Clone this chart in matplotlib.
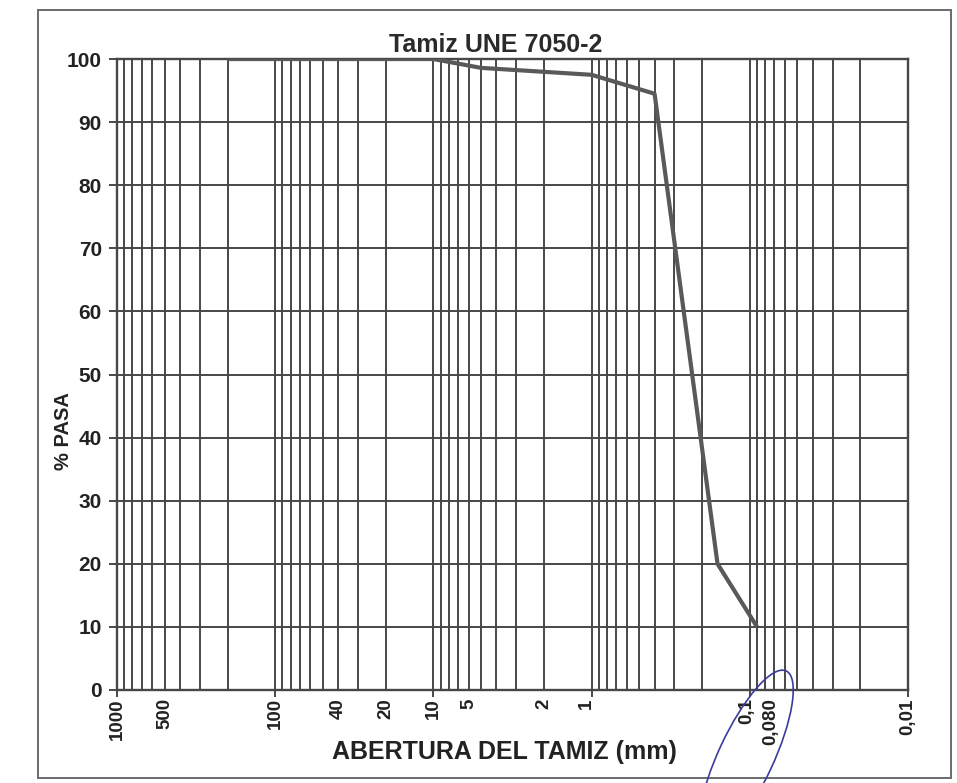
"""
Curva granulometrica (Tamiz UNE 7050-2), % que pasa frente a abertura del tamiz.
"""

from matplotlib import pyplot as plt
from matplotlib import transforms
from matplotlib.patches import Ellipse, Rectangle


OUTPUT_FILE = "out.png"

# datos
abertura_mm = [200, 100, 40, 20, 10, 5, 1, 0.4, 0.16, 0.09]
pasa_pct = [100, 100, 100, 100, 100, 98.6, 97.5, 94.5, 20, 10]

tick_vals = [1000, 500, 100, 40, 20, 10, 5, 2, 1, 0.1, 0.08, 0.01]
tick_labels = ["1000", "500", "100", "40", "20", "10", "5", "2", "1",
               "0,1", "0,080", "0,01"]
y_ticks = list(range(0, 101, 10))

GRID = "#474747"
TEXT = "#222222"
FONT = ["Liberation Sans", "DejaVu Sans"]


def plot(output_file=OUTPUT_FILE):
    plt.rcParams["font.family"] = FONT
    plt.rcParams["font.weight"] = "bold"

    fig = plt.figure(figsize=(9.57, 7.83), dpi=100)
    ax = fig.add_axes([0.1223, 0.1188, 0.8265, 0.8058])

    ax.set_xscale("log")
    ax.set_xlim(1000, 0.01)
    ax.set_ylim(0, 100)

    # rejilla logaritmica: 1..9 por decada
    for k in range(-2, 3):
        for n in range(1, 10):
            ax.axvline(n * 10.0 ** k, color=GRID, lw=1.4, zorder=1)
    ax.axvline(1000, color=GRID, lw=1.4, zorder=1)
    for y in y_ticks[1:-1]:
        ax.axhline(y, color=GRID, lw=1.4, zorder=1)

    # marcas de decada bajo el eje
    ax.vlines([1000, 100, 10, 1, 0.1, 0.01], -1.1, 0, color=GRID, lw=1.4,
              clip_on=False)

    ax.plot(abertura_mm, pasa_pct, color="#595959", lw=3.0, zorder=3,
            solid_capstyle="butt")

    ax.set_xticks(tick_vals)
    ax.set_xticklabels(tick_labels, rotation=90, fontsize=13.5,
                       fontweight="bold", color=TEXT)
    ax.xaxis.set_minor_locator(plt.NullLocator())
    ax.tick_params(axis="x", length=0, pad=6)

    # pequeños desplazamientos de etiquetas como en el original
    shifts = {"5": -12, "1": -5, "0,1": -3, "0,080": 6}
    for lab in ax.get_xticklabels():
        dx = shifts.get(lab.get_text(), 0)
        if dx:
            lab.set_transform(lab.get_transform() + transforms.ScaledTranslation(
                dx / 100, 0, fig.dpi_scale_trans))

    ax.set_yticks(y_ticks)
    ax.set_yticklabels([str(v) for v in y_ticks], fontsize=15,
                       fontweight="bold", color=TEXT)
    ax.tick_params(axis="y", length=6, width=1.4, color=GRID, pad=5)

    for s in ax.spines.values():
        s.set_color(GRID)
        s.set_linewidth(1.7)

    ax.set_ylabel("% PASA", fontsize=14.5, fontweight="bold", color=TEXT)
    ax.yaxis.set_label_coords(-0.056, 0.41)

    fig.text(0.518, 0.9425, "Tamiz UNE 7050-2", ha="center", va="center",
             fontsize=18, fontweight="bold", color="#2a2a2a")
    fig.text(0.527, 0.0396, "ABERTURA DEL TAMIZ (mm)", ha="center",
             va="center", fontsize=18, fontweight="bold", color=TEXT)

    # marco exterior del grafico
    fig.patches.append(Rectangle((0.0397, 0.0064), 0.954, 0.9808,
                                 transform=fig.transFigure, fill=False,
                                 edgecolor="#6a6a6a", lw=1.4))

    # trazo a boligrafo alrededor de 0,080
    fig.patches.append(Ellipse((7.46, 0.26), 0.55, 1.9, angle=-25,
                               transform=fig.dpi_scale_trans, fill=False,
                               edgecolor="#3b3b9e", lw=1.2))

    fig.savefig(output_file, dpi=100)
    print(f"Written to {output_file}")


if __name__ == "__main__":
    plot()
